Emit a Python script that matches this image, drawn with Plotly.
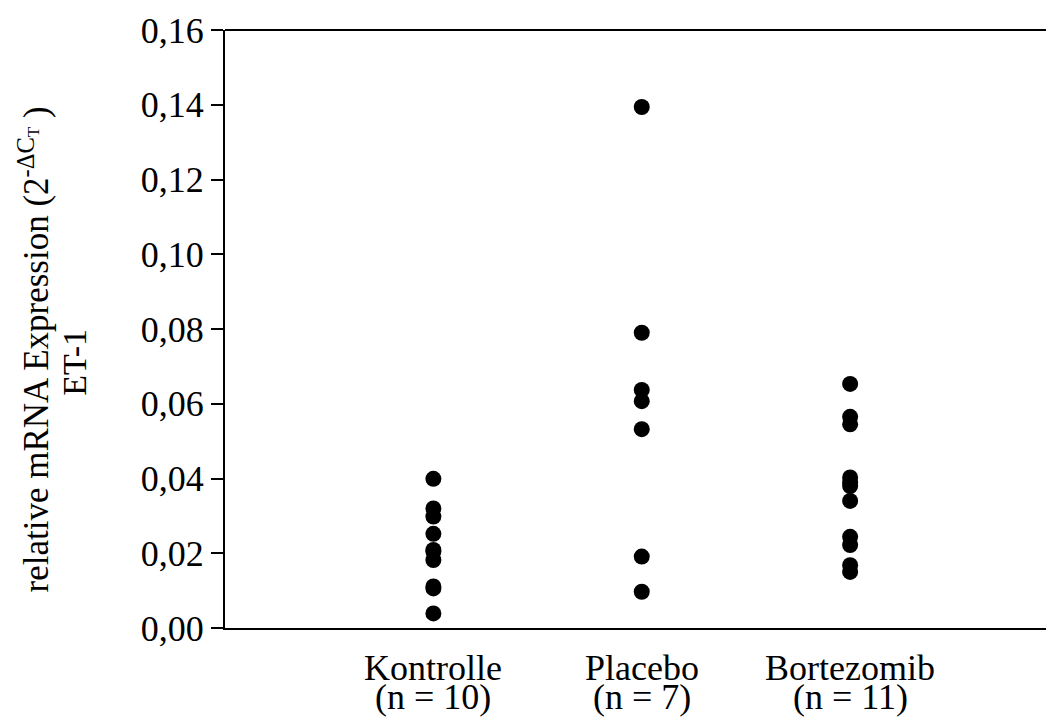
import plotly.graph_objects as go

categories = ["Kontrolle", "Placebo", "Bortezomib"]
n_labels = ["(n = 10)", "(n = 7)", "(n = 11)"]
kontrolle = [0.0399, 0.0320, 0.0298, 0.0252, 0.0209, 0.0205, 0.0182, 0.0111, 0.0106, 0.0039]
placebo = [0.1394, 0.0790, 0.0637, 0.0607, 0.0532, 0.0191, 0.0097]
bortezomib = [0.0653, 0.0565, 0.0545, 0.0403, 0.0390, 0.0380, 0.0340, 0.0244, 0.0222, 0.0168, 0.0150]
y_ticks = [0.0, 0.02, 0.04, 0.06, 0.08, 0.10, 0.12, 0.14, 0.16]

FONT = "Liberation Serif, Times New Roman, Times, serif"

fig = go.Figure()
for cat, vals in zip(categories, [kontrolle, placebo, bortezomib]):
    fig.add_trace(go.Scatter(
        x=[cat] * len(vals), y=vals, mode="markers",
        marker=dict(color="black", size=16, line=dict(width=0)),
        showlegend=False,
    ))

annotations = []
for cat, nl in zip(categories, n_labels):
    annotations.append(dict(
        text=cat, xref="x", yref="paper", x=cat, y=-0.067, showarrow=False,
        xanchor="center", yanchor="middle",
        font=dict(family=FONT, size=36, color="black"),
    ))
    annotations.append(dict(
        text=nl, xref="x", yref="paper", x=cat, y=-0.116, showarrow=False,
        xanchor="center", yanchor="middle",
        font=dict(family=FONT, size=36, color="black"),
    ))
annotations.append(dict(
    text="relative mRNA Expression (2<sup>-ΔC<sub>T</sub></sup> )",
    xref="paper", yref="paper", x=-0.232, y=0.465, showarrow=False,
    textangle=-90, font=dict(family=FONT, size=35, color="black"),
    xanchor="center", yanchor="middle",
))
annotations.append(dict(
    text="ET-1",
    xref="paper", yref="paper", x=-0.183, y=0.445, showarrow=False,
    textangle=-90, font=dict(family=FONT, size=34, color="black"),
    xanchor="center", yanchor="middle",
))

fig.update_layout(
    width=1046, height=720,
    margin=dict(l=225, r=0, t=30, b=92),
    paper_bgcolor="white", plot_bgcolor="white",
    separators=",.",
    font=dict(family=FONT, color="black"),
    xaxis=dict(
        type="category", categoryorder="array", categoryarray=categories,
        range=[-1.0, 2.94], showline=True, linecolor="black", linewidth=2,
        showgrid=False, zeroline=False, ticks="", showticklabels=False,
    ),
    yaxis=dict(
        range=[0, 0.16], tickvals=y_ticks, tickformat=".2f",
        showline=True, linecolor="black", linewidth=2,
        ticks="outside", ticklen=12, tickwidth=2, tickcolor="black",
        showgrid=False, zeroline=False,
        tickfont=dict(family=FONT, size=36, color="black"),
    ),
    shapes=[dict(type="line", xref="paper", yref="paper", x0=0, x1=1, y0=1, y1=1,
                 line=dict(color="black", width=2))],
    annotations=annotations,
)

fig.write_html("out.html")
